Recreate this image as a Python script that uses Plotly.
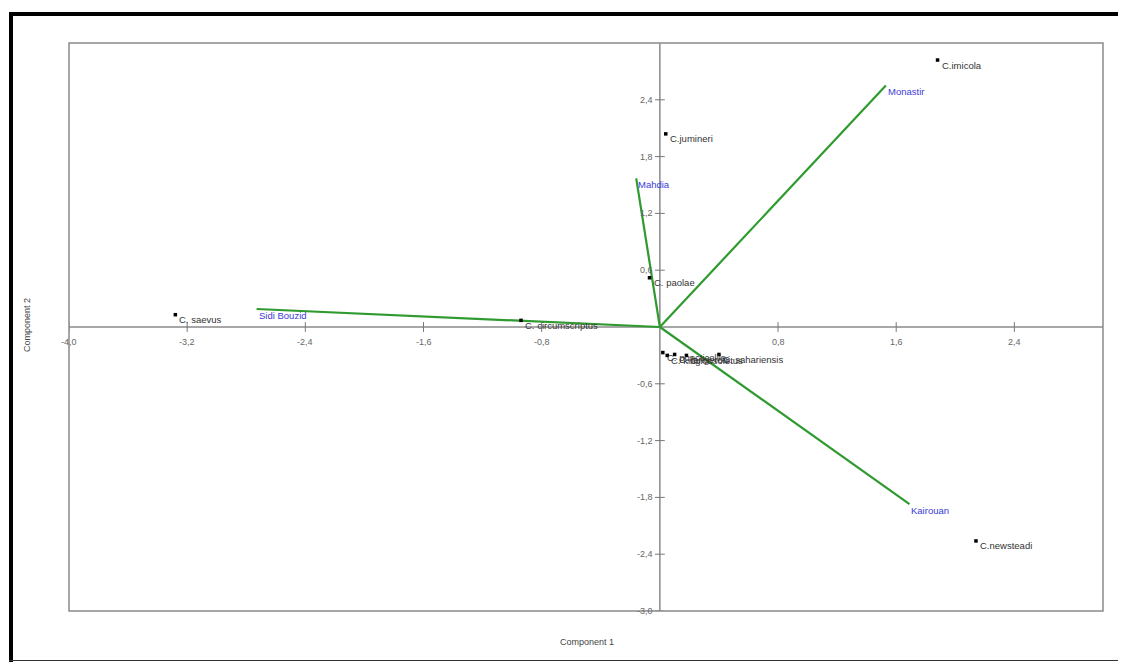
import plotly.graph_objects as go

# ---- data ----
species = ["C.imicola", "C.jumineri", "C. paolae", "C. saevus", "C. circumscriptus",
           "C.newsteadi", "C. puncticollis", "C. kingi", "C. langeroni", "C. obsoletus",
           "C. sahariensis"]
sp_x = [1.88, 0.04, -0.07, -3.28, -0.94, 2.14, 0.02, 0.05, 0.10, 0.18, 0.40]
sp_y = [2.82, 2.04, 0.52, 0.13, 0.07, -2.26, -0.27, -0.30, -0.29, -0.30, -0.29]

sites = ["Monastir", "Mahdia", "Sidi Bouzid", "Kairouan"]
site_x = [1.53, -0.16, -2.73, 1.69]
site_y = [2.55, 1.57, 0.19, -1.87]

x_ticks = [-4.0, -3.2, -2.4, -1.6, -0.8, 0.8, 1.6, 2.4]
y_ticks = [2.4, 1.8, 1.2, 0.6, -0.6, -1.2, -1.8, -2.4, -3.0]

X_RANGE = [-4.0, 3.0]
Y_RANGE = [-3.0, 3.0]

def fmt(v):
    return f"{v:.1f}".replace(".", ",")

FONT = "Liberation Sans, Arial, sans-serif"

fig = go.Figure()

# zero axes
fig.add_trace(go.Scatter(x=X_RANGE, y=[0, 0], mode="lines",
                         line=dict(color="#8a8a8a", width=1.5), hoverinfo="skip", showlegend=False))
fig.add_trace(go.Scatter(x=[0, 0], y=Y_RANGE, mode="lines",
                         line=dict(color="#8a8a8a", width=1.5), hoverinfo="skip", showlegend=False))
# ticks on zero axes
fig.add_trace(go.Scatter(x=x_ticks, y=[0] * len(x_ticks), mode="markers",
                         marker=dict(symbol="line-ns-open", size=7, color="#777",
                                     line=dict(width=1, color="#777")),
                         hoverinfo="skip", showlegend=False))
fig.add_trace(go.Scatter(x=[0] * len(y_ticks), y=y_ticks, mode="markers",
                         marker=dict(symbol="line-ew-open", size=7, color="#777",
                                     line=dict(width=1, color="#777")),
                         hoverinfo="skip", showlegend=False))

# site vectors
for sx, sy in zip(site_x, site_y):
    fig.add_trace(go.Scatter(x=[0, sx], y=[0, sy], mode="lines",
                             line=dict(color="#2f9a2f", width=2.2),
                             hoverinfo="skip", showlegend=False))

# species points
fig.add_trace(go.Scatter(x=sp_x, y=sp_y, mode="markers",
                         marker=dict(symbol="square", size=3.5, color="black"),
                         hoverinfo="skip", showlegend=False))

annotations = []
for name, sx, sy in zip(species, sp_x, sp_y):
    annotations.append(dict(x=sx, y=sy, text=name, showarrow=False, xanchor="left",
                            yanchor="middle", xshift=2, yshift=-5,
                            font=dict(family=FONT, size=9.5, color="#333")))
for name, sx, sy in zip(sites, site_x, site_y):
    annotations.append(dict(x=sx, y=sy, text=name, showarrow=False, xanchor="left",
                            yanchor="middle", xshift=0, yshift=-6,
                            font=dict(family=FONT, size=9.5, color="#3b3bd6")))
for v in x_ticks:
    annotations.append(dict(x=v, y=0, text=fmt(v), showarrow=False, xanchor="center",
                            yanchor="top", yshift=-8,
                            font=dict(family=FONT, size=9, color="#666")))
for v in y_ticks:
    annotations.append(dict(x=0, y=v, text=fmt(v), showarrow=False, xanchor="right",
                            yanchor="middle", xshift=-5,
                            font=dict(family=FONT, size=9, color="#666")))

# page offset: the browser body has an 8px margin
OFF = 8
W, H = 1126 - OFF, 662 - OFF
L, R, T, B = 69 - OFF, 1103 - OFF, 43 - OFF, 611 - OFF
pw, ph = R - L, B - T

def px(xp):
    return (xp - OFF - L) / pw

def py(yp):
    return (B - (yp - OFF)) / ph

annotations.append(dict(xref="paper", yref="paper", x=px(587), y=py(642), text="Component 1",
                        showarrow=False, xanchor="center", yanchor="middle",
                        font=dict(family=FONT, size=9, color="#444")))
annotations.append(dict(xref="paper", yref="paper", x=px(27), y=py(325), text="Component 2",
                        showarrow=False, xanchor="center", yanchor="middle", textangle=-90,
                        font=dict(family=FONT, size=9, color="#444")))

shapes = [
    # plot frame
    dict(type="rect", xref="paper", yref="paper", x0=0, y0=0, x1=1, y1=1,
         line=dict(color="#8a8a8a", width=1.5)),
    # outer black frame
    dict(type="line", xref="paper", yref="paper", x0=px(9), x1=px(1130), y0=py(14), y1=py(14),
         line=dict(color="black", width=4)),
    dict(type="line", xref="paper", yref="paper", x0=px(11), x1=px(11), y0=py(12), y1=py(665),
         line=dict(color="black", width=4)),
    dict(type="line", xref="paper", yref="paper", x0=px(9), x1=px(1130), y0=py(660.5), y1=py(660.5),
         line=dict(color="#333", width=1.2)),
]

fig.update_layout(
    width=W, height=H,
    margin=dict(l=L, r=W - R, t=T, b=H - B),
    paper_bgcolor="white", plot_bgcolor="white",
    xaxis=dict(range=X_RANGE, showgrid=False, zeroline=False, showticklabels=False,
               ticks="", showline=False, fixedrange=True),
    yaxis=dict(range=Y_RANGE, showgrid=False, zeroline=False, showticklabels=False,
               ticks="", showline=False, fixedrange=True),
    annotations=annotations,
    shapes=shapes,
    showlegend=False,
)

fig.write_html("out.html")
